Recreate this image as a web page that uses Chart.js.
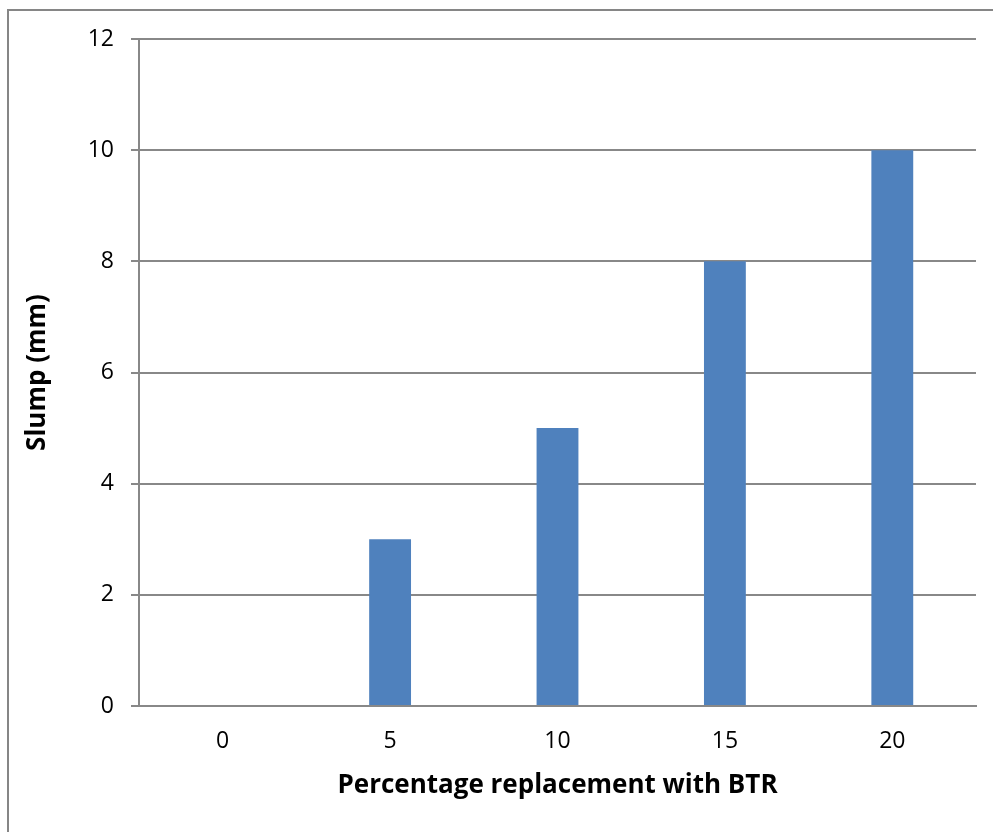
<!DOCTYPE html>
<html>
<head>
<meta charset="utf-8">
<script src="https://cdn.jsdelivr.net/npm/chart.js@4/dist/chart.umd.min.js"></script>
<style>
  html, body { margin: 0; padding: 0; background: #ffffff; overflow: hidden; }
  #wrap { position: relative; width: 993px; height: 832px; }
  #frame { position: absolute; left: 7px; top: 9px; width: 1100px; height: 1000px; border: 2px solid #868686; box-sizing: border-box; }
  canvas { position: absolute; left: 0; top: 0; }
</style>
</head>
<body>
<div id="wrap">
  <div id="frame"></div>
  <canvas id="c" width="993" height="832"></canvas>
</div>
<script>
const categories = ["0", "5", "10", "15", "20"];
const slumpValues = [0, 3, 5, 8, 10];
const yTicks = [0, 2, 4, 6, 8, 10, 12];
const xTitle = "Percentage replacement with BTR";
const yTitle = "Slump (mm)";

const FONT = "'Open Sans', 'Liberation Sans', sans-serif";
const GRID = "#888888";

new Chart(document.getElementById('c'), {
  type: 'bar',
  data: {
    labels: categories,
    datasets: [{
      data: slumpValues,
      backgroundColor: '#4F81BD',
      borderWidth: 0,
      categoryPercentage: 1.0,
      barPercentage: 0.25
    }]
  },
  options: {
    responsive: false,
    animation: false,
    devicePixelRatio: 1,
    layout: { padding: { top: 39, right: 17, bottom: 0, left: 0 } },
    plugins: { legend: { display: false }, tooltip: { enabled: false } },
    scales: {
      x: {
        grid: { display: false, drawTicks: false },
        border: { display: true, color: GRID, width: 2 },
        ticks: { color: '#000', font: { family: FONT, size: 23 }, padding: 22 },
        title: { display: true, text: xTitle, color: '#000', font: { family: FONT, size: 26, weight: 'bold' }, padding: { top: 0, bottom: 31 } },
        afterFit: s => { s.height = 126; }
      },
      y: {
        min: 0, max: 12,
        afterBuildTicks: s => { s.ticks = yTicks.map(v => ({ value: v })); },
        grid: { color: GRID, lineWidth: 2, tickLength: 8, drawTicks: true },
        border: { display: true, color: GRID, width: 2 },
        ticks: { color: '#000', font: { family: FONT, size: 23 }, padding: 17 },
        title: { display: true, text: yTitle, color: '#000', font: { family: FONT, size: 26, weight: 'bold' }, padding: { top: 22, bottom: 0 } },
        afterFit: s => { s.width = 139; }
      }
    }
  }
});
</script>
</body>
</html>
